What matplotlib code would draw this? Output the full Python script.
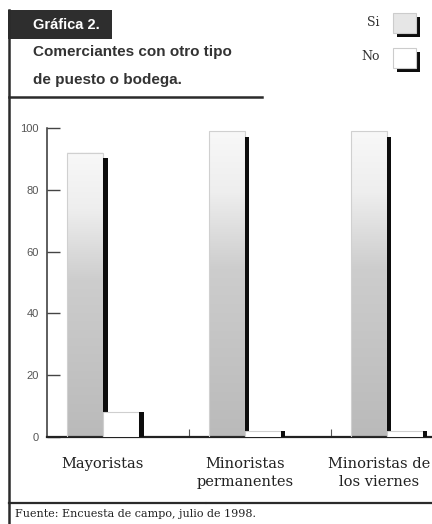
import matplotlib
matplotlib.use("Agg")
import matplotlib.pyplot as plt
import numpy as np
from matplotlib.patches import Rectangle
from matplotlib.lines import Line2D
from matplotlib.colors import LinearSegmentedColormap

# ---- data ----
categories = ["Mayoristas", "Minoristas\npermanentes", "Minoristas de\nlos viernes"]
si_values = [92, 99, 99]
no_values = [8, 2, 2]
yticks = [0, 20, 40, 60, 80, 100]
legend_labels = ["Si", "No"]
title_tag = "Gráfica 2."
title_text = "Comerciantes con otro tipo\nde puesto o bodega."
source_text = "Fuente: Encuesta de campo, julio de 1998."

W, H = 432, 524
fig = plt.figure(figsize=(W / 100, H / 100), dpi=100)
fig.patch.set_facecolor("white")

def fx(x):
    return x / W

def fy(y):
    return 1 - y / H

SANS = ["Liberation Sans", "DejaVu Sans"]
SERIF = ["DejaVu Serif"]
dark = "#2b2b2b"

# axes geometry (pixel based)
ax_left, ax_right, ax_bottom, ax_top = 47, 432, 437, 128
ax = fig.add_axes([fx(ax_left), fy(ax_bottom), (ax_right - ax_left) / W, (ax_bottom - ax_top) / H])
unit = 142.0  # px per category
xmin = -0.5
xmax = xmin + (ax_right - ax_left) / unit

grad_cmap = LinearSegmentedColormap.from_list(
    "g", [(0.0, "#bababa"), (0.55, "#cdcdcd"), (0.8, "#eeeeee"), (1.0, "#f8f8f8")])

bw = 36 / unit
off = 20 / unit
sw = 4.5 / unit
n = len(categories)
for i in range(n):
    sl = i - 0.5 + off
    # Si bar with gradient
    grad = np.linspace(0, 1, 256).reshape(-1, 1)
    ax.imshow(grad, extent=(sl, sl + bw, 0, si_values[i]), origin="lower",
              cmap=grad_cmap, aspect="auto", zorder=2)
    ax.add_patch(Rectangle((sl, 0), bw, si_values[i], facecolor="none",
                           edgecolor="#d0d0d0", lw=0.8, zorder=3))
    ax.add_patch(Rectangle((sl + bw, 0), sw, si_values[i] - 1.8, facecolor="#0d0d0d",
                           edgecolor="none", zorder=3))
    # No bar
    nl = sl + bw
    ax.add_patch(Rectangle((nl, 0), bw, no_values[i], facecolor="white",
                           edgecolor="#cfcfcf", lw=0.8, zorder=4))
    ax.add_patch(Rectangle((nl + bw, 0), sw, no_values[i], facecolor="#0d0d0d",
                           edgecolor="none", zorder=5))
    if i < n - 1:
        ax.text(sl + bw, -6.6, categories[i], ha="center", va="top", fontsize=10.5,
                family=SERIF, color="#222222", linespacing=1.3, clip_on=False)
    else:
        # last label kept inside the figure edge
        ax.text(xmax - 2 / unit, -6.6, categories[i], ha="right", va="top", fontsize=10.5,
                family=SERIF, color="#222222", linespacing=1.3, multialignment="center",
                clip_on=False)

ax.set_xlim(xmin, xmax)
ax.set_ylim(0, 100)

for s in ["top", "right"]:
    ax.spines[s].set_visible(False)
ax.spines["left"].set_color("#333333")
ax.spines["left"].set_linewidth(1.1)
ax.spines["bottom"].set_color("#222222")
ax.spines["bottom"].set_linewidth(1.6)

ax.set_yticks(yticks)
ax.set_yticklabels([str(v) for v in yticks], family=SANS, fontsize=8, color="#555555")
ax.tick_params(axis="y", direction="in", length=9, width=1.0, color="#444444", pad=6)
ax.set_xticks([0.5, 1.5])
ax.set_xticklabels([])
ax.tick_params(axis="x", direction="in", length=6, width=0.8, color="#555555")

# ---- frame decorations ----
fig.add_artist(Line2D([fx(9), fx(9)], [fy(10), fy(524)], color=dark, lw=1.8))
fig.add_artist(Line2D([fx(9), fx(262)], [fy(97), fy(97)], color=dark, lw=1.8))
fig.add_artist(Line2D([fx(9), fx(205)], [fy(503), fy(503)], color=dark, lw=1.6))
fig.add_artist(Line2D([fx(207), fx(432)], [fy(503), fy(503)], color=dark, lw=1.6))

# title box
fig.add_artist(Rectangle((fx(8), fy(39)), (112 - 8) / W, (39 - 10) / H,
                         facecolor="#2e2e2e", edgecolor="none", transform=fig.transFigure))
fig.text(fx(33), fy(25), title_tag, color="white", fontsize=10.5, fontweight="bold",
         family=SANS, va="center", ha="left")
fig.text(fx(33), fy(52), title_text.split("\n")[0], color="#333333", fontsize=11,
         fontweight="bold", family=SANS, va="center", ha="left")
fig.text(fx(33), fy(80), title_text.split("\n")[1], color="#333333", fontsize=11,
         fontweight="bold", family=SANS, va="center", ha="left")

# legend
for k, lab in enumerate(legend_labels):
    top = 13 + 35 * k
    bx, bwid, bh = 393, 23, 20
    # shadow
    fig.add_artist(Rectangle((fx(bx + 4), fy(top + bh + 4)), bwid / W, bh / H,
                             facecolor="#0d0d0d", edgecolor="none", transform=fig.transFigure))
    fc = "#e6e6e6" if k == 0 else "white"
    fig.add_artist(Rectangle((fx(bx), fy(top + bh)), bwid / W, bh / H,
                             facecolor=fc, edgecolor="#cccccc", lw=0.8,
                             transform=fig.transFigure))
    fig.text(fx(380), fy(top + 9), lab, family=SERIF, fontsize=9, color="#333333",
             ha="right", va="center")

# source
fig.text(fx(15), fy(514), source_text, family=SERIF, fontsize=8, color="#222222",
         ha="left", va="center")

fig.savefig("out.png", dpi=100, facecolor="white")
